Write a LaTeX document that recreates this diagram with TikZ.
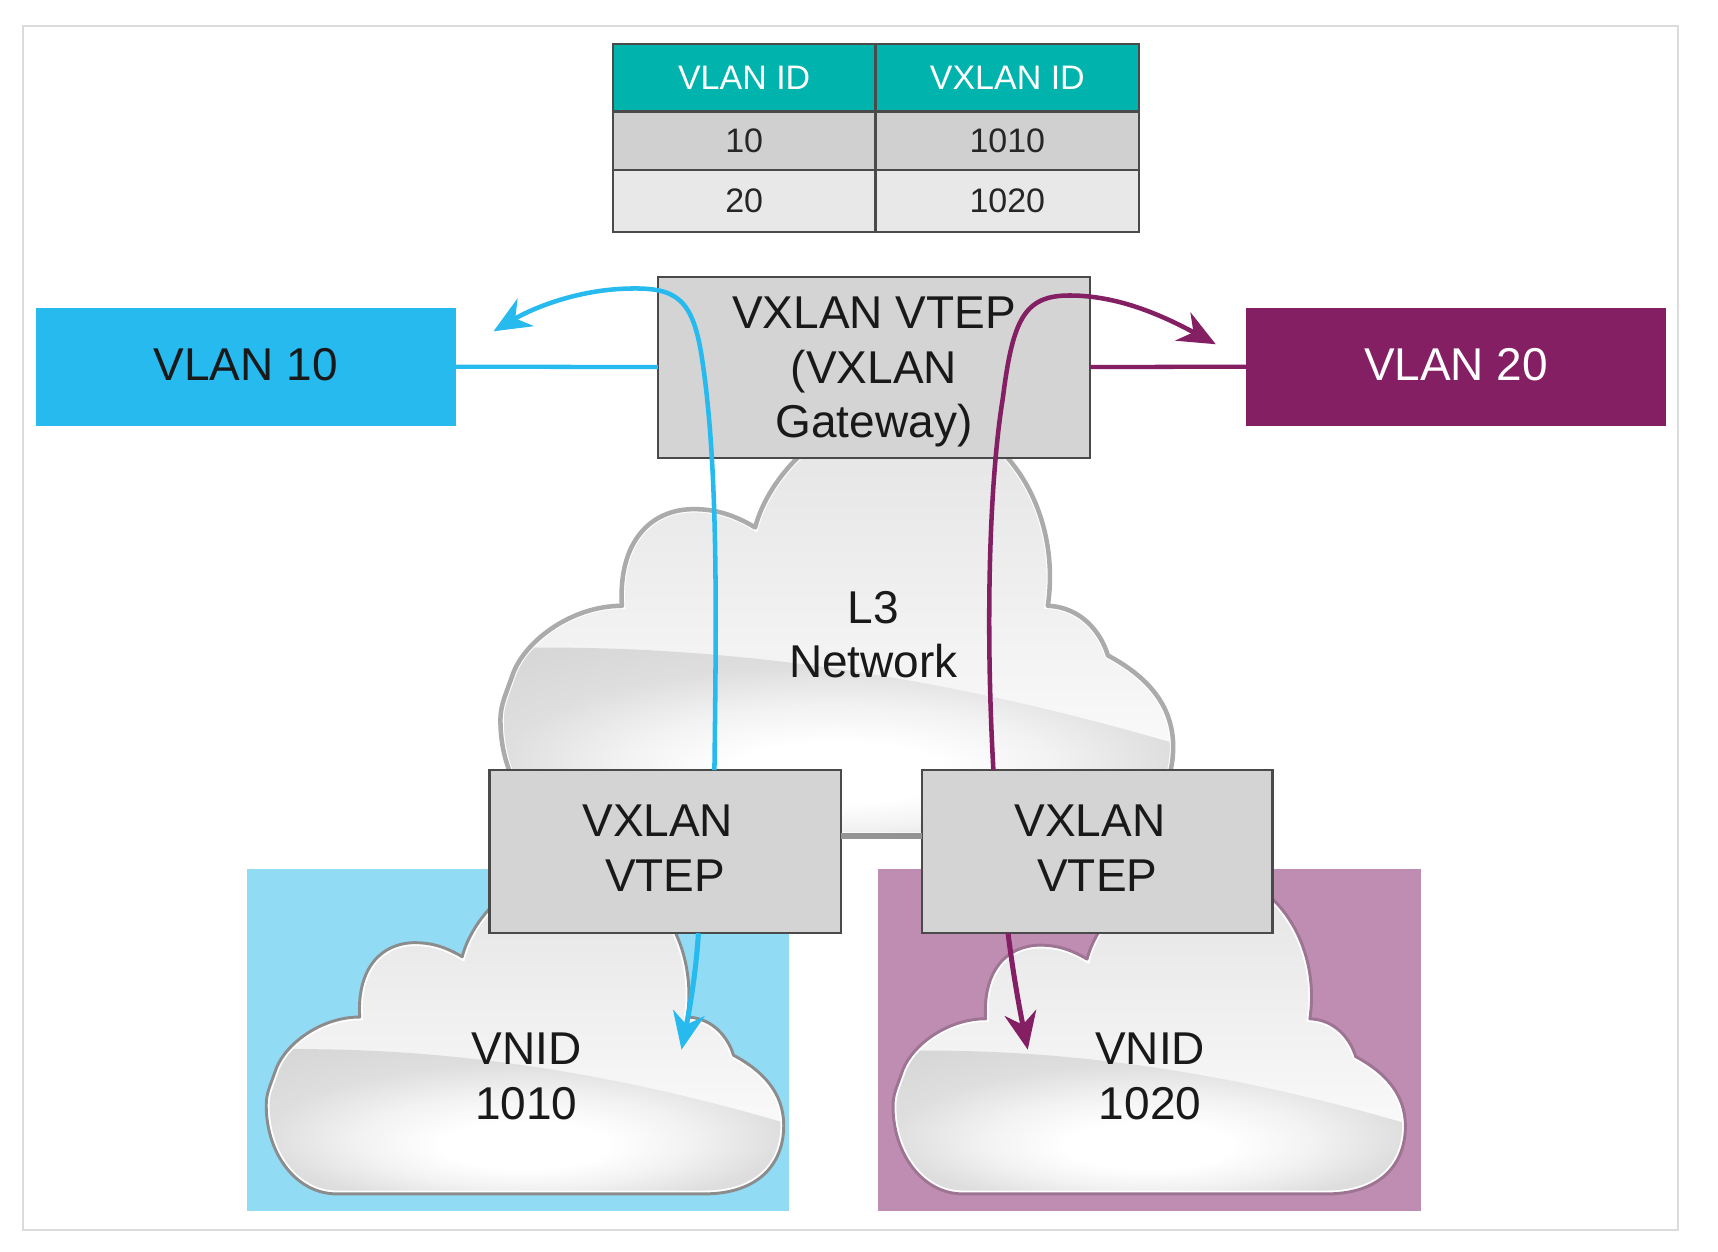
\documentclass[tikz,border=0pt]{standalone}
\usepackage{fontspec}
\setmainfont{Liberation Sans}
\usetikzlibrary{arrows.meta}

\definecolor{vlanblue}{HTML}{27BAEF}
\definecolor{vlanpurple}{HTML}{841F63}
\definecolor{paleblue}{HTML}{92DBF5}
\definecolor{palepurple}{HTML}{BF8DB2}
\definecolor{tealhead}{HTML}{00B3AC}
\definecolor{boxgray}{HTML}{D4D4D4}
\definecolor{rowlight}{HTML}{E8E8E8}
\definecolor{rowdark}{HTML}{D0D0D0}
\definecolor{edgegray}{HTML}{4A4A4A}

\pgfdeclareradialshading{cloudglow}{\pgfpoint{0bp}{-10bp}}{color(0bp)=(white); color(8bp)=(white); color(16bp)=(black!5); color(25bp)=(black!13); color(50bp)=(black!20)}

\newcommand{\cloudoutline}{(70,0) -- (436,0)
  .. controls (490,0) and (515,-30) .. (515,-68)
  .. controls (515,-100) and (495,-122) .. (465,-138)
  .. controls (460,-155) and (445,-175) .. (419,-176)
  .. controls (430,-250) and (385,-325) .. (310,-325)
  .. controls (250,-325) and (205,-275) .. (195,-236)
  .. controls (175,-248) and (160,-250) .. (148,-250)
  .. controls (115,-250) and (90,-225) .. (93,-176)
  .. controls (55,-176) and (20,-150) .. (10,-125)
  .. controls (3,-105) and (0,-100) .. (0,-88)
  .. controls (0,-40) and (30,0) .. (70,0) -- cycle}

\tikzset{
  pics/cloudshape/.style={code={
    \begin{scope}
      \clip \cloudoutline;
      \shade[top color=black!11, bottom color=black!2] (0,-330) rectangle (520,-60);
      \shade[shading=cloudglow]
        (0,-144) -- (25,-144) .. controls (170,-145) and (330,-125) .. (515,-71)
        -- (515,0) -- (0,0) -- cycle;
      \draw[white, line width=5pt] \cloudoutline;
    \end{scope}
    \draw[#1, line join=round] \cloudoutline;
  }}
}

\begin{document}
\begin{tikzpicture}[x=0.7462pt, y=-0.7462pt,
    bigtext/.style={font=\fontsize{34.5}{41}\selectfont, text=black!90, align=center},
    celltext/.style={font=\fontsize{25.5}{30}\selectfont, text=black!85},
    cell/.style={celltext, draw=edgegray, line width=1.6pt, minimum width=197pt, outer sep=0pt},
    switchbox/.style={bigtext, draw=edgegray, fill=boxgray, line width=1.6pt, outer sep=0pt},
    vlanbox/.style={bigtext, minimum width=315pt, minimum height=88.5pt, outer sep=0pt},
    flow/.style={line width=3.4pt, -{Stealth[length=28pt, width=24pt, inset=9pt]}}]
  \useasboundingbox (0,0) rectangle (1726.8,1258.4);
  \draw[black!14, line width=1.6pt] (23,26) rectangle (1687,1236);

  % coloured squares behind the lower clouds
  \fill[paleblue]   (248,873) rectangle (793,1217);
  \fill[palepurple] (882,873) rectangle (1428,1217);

  \pic[scale=1.01] at (267.6,1200) {cloudshape={black!45, line width=2.2pt}};
  \pic at (897.6,1200) {cloudshape={black!18!palepurple, line width=2.2pt}};
  \pic[scale=1.313] at (503,840) {cloudshape={black!33, line width=3.4pt}};

  % mapping table
  \path node (hd10) at (748,78)    [cell, fill=tealhead, text=white, minimum height=50.7pt] {VLAN ID}
        node (hd20) at (1012.5,78) [cell, fill=tealhead, text=white, minimum height=50.7pt] {VXLAN ID}
        node (va10) at (748,141.5)    [cell, fill=rowdark, minimum height=44pt] {10}
        node (vx10) at (1012.5,141.5) [cell, fill=rowdark, minimum height=44pt] {1010}
        node (va20) at (748,202)      [cell, fill=rowlight, minimum height=46.3pt] {20}
        node (vx20) at (1012.5,202)   [cell, fill=rowlight, minimum height=46.3pt] {1020};

  \path node (vlan10) at (247,368.5)  [vlanbox, fill=vlanblue] {VLAN 10\rule[-3pt]{0pt}{0pt}}
        node (vlan20) at (1463.5,368.5) [vlanbox, fill=vlanpurple, text=white] {VLAN 20\rule[-3pt]{0pt}{0pt}}
        node (gate) at (878.5,369) [switchbox, minimum width=324.4pt, minimum height=135.8pt] {\rule{0pt}{31pt}VXLAN VTEP\\(VXLAN\\Gateway)}
        node (vtepa) at (668.5,856) [switchbox, minimum width=263.4pt, minimum height=122.4pt] {VXLAN\hspace*{11pt}\\VTEP\rule[-5pt]{0pt}{0pt}}
        node (vtepb) at (1103,856)  [switchbox, minimum width=262.7pt, minimum height=122.4pt] {VXLAN\hspace*{11pt}\\VTEP\rule[-5pt]{0pt}{0pt}};

  \path node (l3)    at (878,638)  [bigtext] {L3\\Network}
        node (vnida) at (529,1082) [bigtext] {VNID\\1010}
        node (vnidb) at (1156,1082) [bigtext] {VNID\\1020};

  \coordinate (tipa) at (496,333);
  \coordinate (tipb) at (1222,346);
  \coordinate (tipc) at (685,1055);
  \coordinate (tipd) at (1033,1055);

  \draw[vlanblue, line width=3.2pt] (vlan10) -- (gate);
  \draw[vlanpurple, line width=3.2pt] (vlan20) -- (gate);
  \draw[black!42, line width=4.6pt] ([yshift=12pt]vtepa.east) -- ([yshift=12pt]vtepb.west);

  \draw[flow, vlanblue] ([xshift=37pt]vtepa.north)
        .. controls (720,620) and (722,470) .. (706,363)
        .. controls (697,300) and (680,289) .. (633,290)
        .. controls (580,291) and (535,310) .. (tipa);
  \draw[flow, vlanpurple] ([xshift=-78pt]vtepb.north)
        .. controls (990,620) and (995,480) .. (1008,400)
        .. controls (1018,320) and (1030,297) .. (1075,297)
        .. controls (1125,297) and (1170,318) .. (tipb);
  \draw[flow, vlanblue, line width=3.8pt] ([xshift=25pt]vtepa.south) .. controls (699,985) and (691,1025) .. (tipc);
  \draw[flow, vlanpurple, line width=3.8pt] ([xshift=-67pt]vtepb.south) .. controls (1019,985) and (1027,1025) .. (tipd);
\end{tikzpicture}
\end{document}
